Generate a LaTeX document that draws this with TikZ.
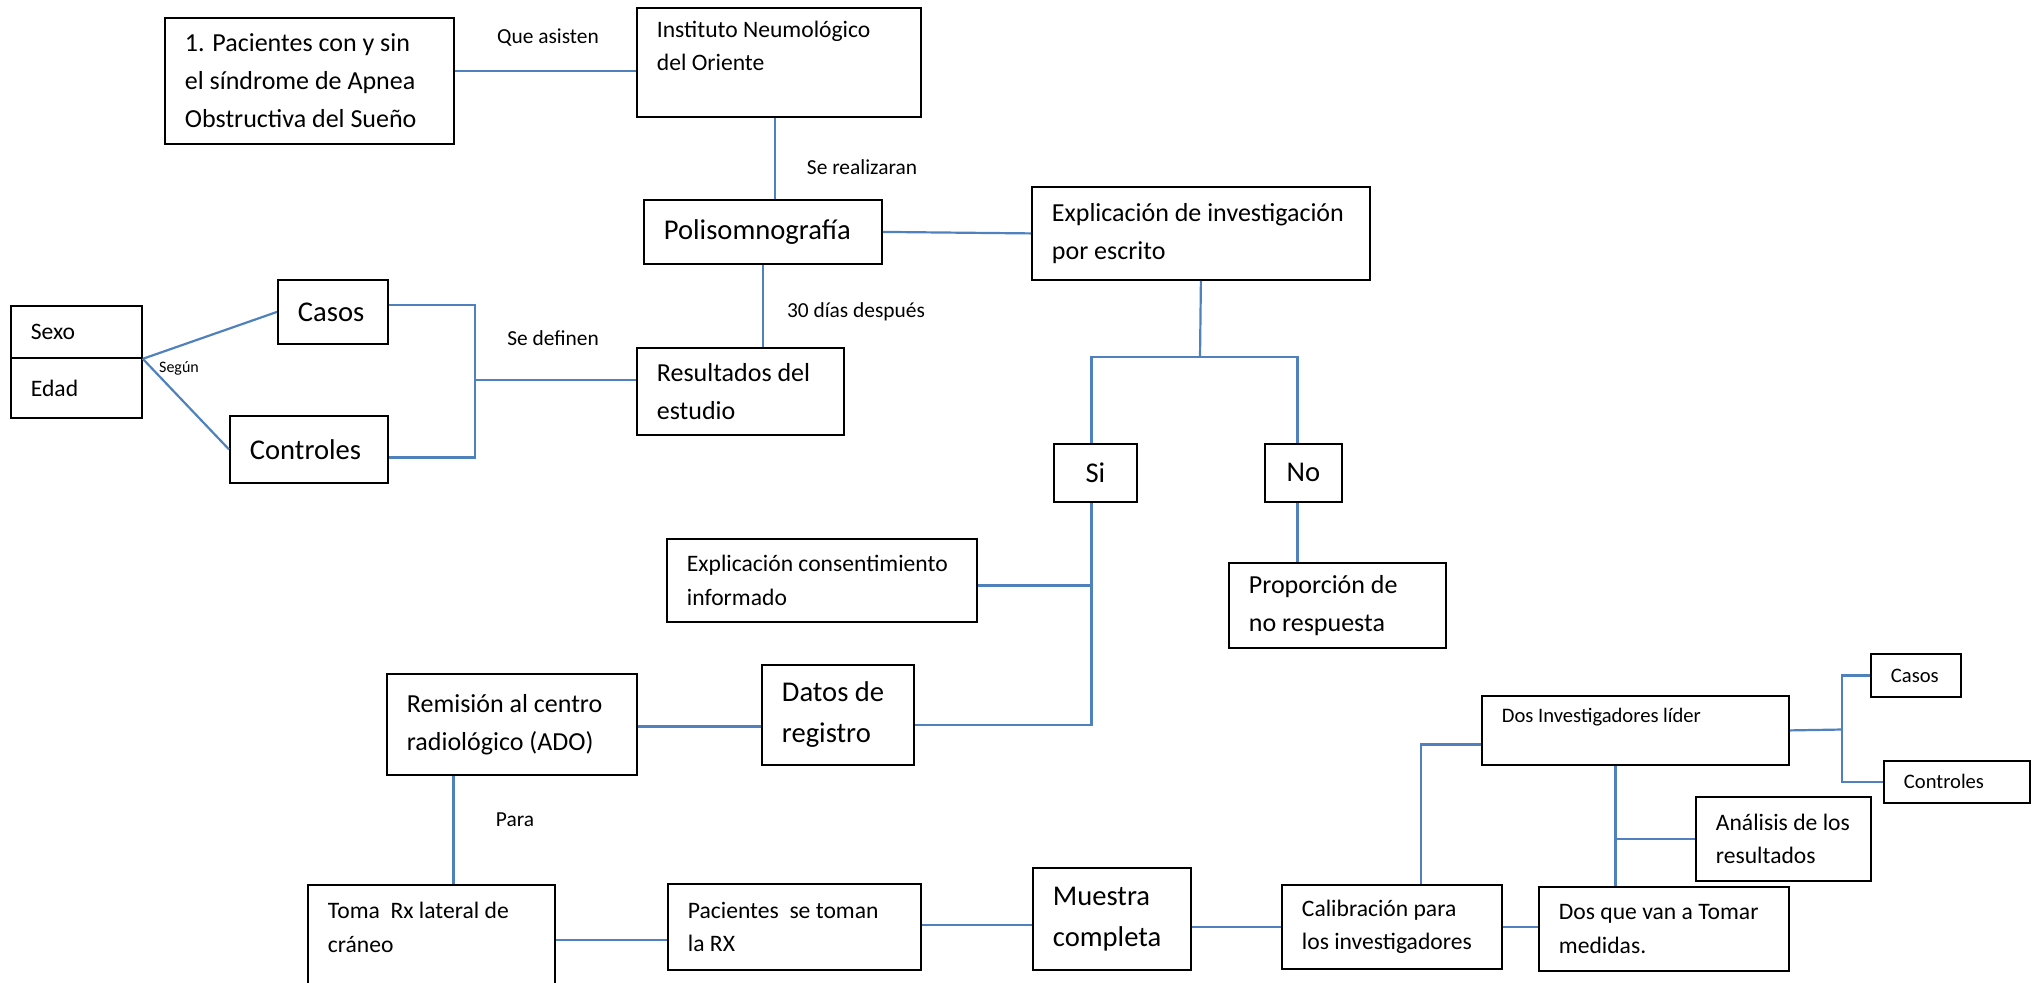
\documentclass[tikz,border=0pt]{standalone}
\usepackage{fontspec}
\setmainfont{Carlito}
\definecolor{azul}{RGB}{79,129,189}
\hyphenpenalty=10000
\tikzset{
  caja/.style={draw=black, line width=0.9pt, anchor=north west, inner xsep=10pt, inner ysep=0pt, align=flush left},
  enlace/.style={draw=azul, line width=1.1pt},
  grande/.style={font=\fontsize{14.3}{20.5}\selectfont},
  media/.style={font=\fontsize{13}{19}\selectfont},
  chica/.style={font=\fontsize{11.8}{16.8}\selectfont},
  mini/.style={font=\fontsize{10.3}{15}\selectfont},
  etiq/.style={font=\fontsize{10.7}{13}\selectfont},
}
\begin{document}
\begin{tikzpicture}[x=0.5pt, y=-0.5pt]
\useasboundingbox (0,0) rectangle (2032,982);
\clip (0,0) rectangle (2032,982);
% cajas
\node[caja, media, text width=124.5pt, minimum height=63pt] (pac) at (164,17) {1. Pacientes con y sin\\el síndrome de Apnea\\Obstructiva del Sueño};
\node[caja, chica, text width=122pt, minimum height=54.5pt] (inst) at (636,7) {Instituto Neumológico\\del Oriente\\\mbox{}};
\node[caja, grande, text width=99pt, minimum height=32pt] (poli) at (643,199) {Polisomnografía};
\node[caja, media, text width=149pt, minimum height=46.5pt] (expinv) at (1031,186) {Explicación de investigación\\por escrito};
\node[caja, chica, text width=45.5pt, minimum height=26pt] (sexo) at (10,305) {Sexo};
\node[caja, chica, text width=45.5pt, minimum height=30pt] (edad) at (10,357) {Edad};
\node[caja, grande, text width=35pt, minimum height=32pt] (casos) at (277,279) {Casos};
\node[caja, grande, text width=59pt, minimum height=33.5pt] (contr) at (229,415) {Controles};
\node[caja, media, text width=83.5pt, minimum height=43.5pt] (resul) at (636,347) {Resultados del\\estudio};
\node[caja, grande, align=flush center, text width=21.5pt, minimum height=29pt] (si) at (1053,443) {Si};
\node[caja, grande, align=flush center, text width=18.5pt, minimum height=29pt] (no) at (1264,443) {No};
\node[caja, chica, text width=135pt, minimum height=41.5pt] (expcons) at (666,538) {Explicación consentimiento\\informado};
\node[caja, media, text width=88.5pt, minimum height=42.5pt] (prop) at (1228,562) {Proporción de\\no respuesta};
\node[caja, media, text width=105pt, minimum height=50.5pt] (remi) at (386,673) {Remisión al centro\\radiológico (ADO)};
\node[caja, grande, text width=56pt, minimum height=50pt] (datos) at (761,664) {Datos de\\registro};
\node[caja, chica, text width=103.5pt, minimum height=59pt] (toma) at (307,884) {Toma\ \ Rx lateral de\\cráneo\\\mbox{}};
\node[caja, chica, text width=106.5pt, minimum height=43pt] (pactom) at (667,883) {Pacientes\ \ se toman\\la RX};
\node[caja, grande, text width=59pt, minimum height=51pt] (muestra) at (1032,867) {Muestra\\completa};
\node[caja, chica, text width=90pt, minimum height=42pt] (calib) at (1281,884) {Calibración para\\los investigadores};
\node[caja, chica, text width=105pt, minimum height=42pt] (dosque) at (1538,886) {Dos que van a Tomar\\medidas.};
\node[caja, chica, text width=67.5pt, minimum height=42pt] (anal) at (1695,796) {Análisis~de~los\\resultados};
\node[caja, mini, text width=133.5pt, minimum height=34.5pt] (dosinv) at (1481,695) {Dos Investigadores líder\\\mbox{}};
\node[caja, mini, text width=25pt, minimum height=21.5pt] (casos2) at (1870,653) {Casos};
\node[caja, mini, text width=53pt, minimum height=21pt] (contr2) at (1883,760) {Controles};
% etiquetas
\node[etiq] (qa) at (548,38) {Que asisten};
\node[etiq] (sr) at (862,167) {Se realizaran};
\node[etiq] (td) at (856,312) {30 días después};
\node[etiq] (sd) at (553,338) {Se definen};
\node[font=\fontsize{8}{10}\selectfont] (sg) at (179,368) {Según};
\node[etiq] (pa) at (515,820) {Para};
% conectores
\coordinate (llave) at (475,380);
\coordinate (ramif) at (1200,357);
\coordinate (rama) at (1842,729.5);
\draw[enlace] ([yshift=5pt]pac.east) -- ([yshift=5pt]pac.east -| inst.west);
\draw[enlace] ([xshift=-2pt]inst.south) -- ([xshift=-2pt]inst.south |- poli.north);
\draw[enlace] (poli.east) -- (expinv.west);
\draw[enlace] (poli.south) -- (poli.south |- resul.north);
\draw[enlace] ([yshift=3.5pt]casos.east) -| (llave) |- ([yshift=-4pt]contr.east);
\draw[enlace] (llave) -- (llave -| resul.west);
\draw[enlace] (sexo.south east) -- (casos.west);
\draw[enlace] (sexo.south east) -- (contr.west);
\draw[enlace] (expinv.south) -- (ramif);
\draw[enlace] ([xshift=-2pt]si.north) |- (ramif) -| ([xshift=-3pt]no.north);
\draw[enlace] ([xshift=-2pt]si.south) |- ([yshift=-5pt]datos.east);
\draw[enlace] ([yshift=-2.5pt]expcons.east) -- ([yshift=-2.5pt,xshift=-2pt]expcons.east -| si.south);
\draw[enlace] ([xshift=-3pt]no.south) -- ([xshift=-3pt]no.south |- prop.north);
\draw[enlace] ([yshift=-1pt]remi.east) -- ([yshift=-1pt]remi.east -| datos.west);
\draw[enlace] ([xshift=11pt]toma.north) -- ([xshift=11pt]toma.north |- remi.south);
\draw[enlace] ([yshift=2pt]toma.east) -- ([yshift=2pt]toma.east -| pactom.west);
\draw[enlace] ([yshift=1pt]pactom.east) -- ([yshift=1pt]pactom.east -| muestra.west);
\draw[enlace] (calib.west) -- (calib.west -| muestra.east);
\draw[enlace] (calib.east) -- (calib.east -| dosque.west);
\draw[enlace] ([xshift=14.5pt]calib.north) |- ([yshift=-7pt]dosinv.west);
\draw[enlace] ([xshift=-10pt]dosinv.south) -- ([xshift=-10pt]dosinv.south |- dosque.north);
\draw[enlace] (anal.west) -- ([xshift=-10pt]anal.west -| dosinv.south);
\draw[enlace] (dosinv.east) -- (rama);
\draw[enlace] (casos2.west) -| (rama) |- (contr2.west);
\end{tikzpicture}
\end{document}
